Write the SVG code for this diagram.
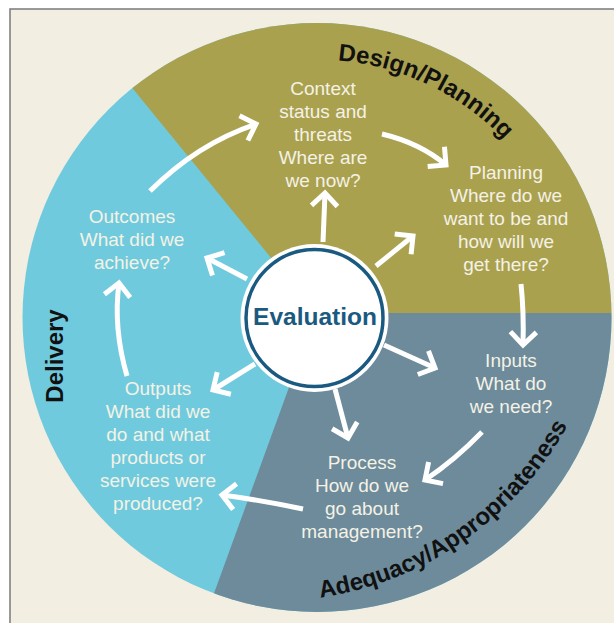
<svg xmlns="http://www.w3.org/2000/svg" width="614" height="623" viewBox="0 0 614 623">
  <style>
    .lbl { font-family: "Liberation Sans", Arial, sans-serif; font-size: 19px; fill: #f4f2e6; text-anchor: middle; }
    .cat { font-family: "Liberation Sans", Arial, sans-serif; font-size: 24px; font-weight: bold; fill: #111; }
    .arr { fill: none; stroke: #fff; stroke-width: 5; marker-end: url(#ah); }
  </style>
  <defs>
    <marker id="ah" markerUnits="userSpaceOnUse" markerWidth="40" markerHeight="40" viewBox="-20 -20 40 40" refX="0" refY="0" orient="auto" overflow="visible">
      <path d="M-13,-13 L0,0 L-13,13" fill="none" stroke="#fff" stroke-width="5" stroke-linejoin="miter"/>
    </marker>
    <clipPath id="disc"><circle cx="317" cy="317.5" r="294.5"/></clipPath>
    <path id="arcTop" d="M272.2,63.4 A258,258 0 0 1 571.1,272.7"/>
    <path id="arcBot" d="M299.4,600.2 A340,340 0 0 0 589.3,377.8"/>
  </defs>

  <rect x="0" y="0" width="614" height="623" fill="#ffffff"/>
  <rect x="10" y="9" width="604" height="614" fill="#f2eee1"/>
  <path d="M10,623 L10,9 L614,9" fill="none" stroke="#7a7a7a" stroke-width="1.5"/>

  <g id="wheel">
    <circle cx="317" cy="317.5" r="294.5" fill="#70cadd"/>
    <g clip-path="url(#disc)">
      <polygon points="316,313 40,-25 700,-25 700,313" fill="#aaa14f"/>
      <polygon points="316,313 700,313 700,740 161,739" fill="#6d8b9a"/>
    </g>
  </g>

  <g id="category-labels">
    <text class="cat"><textPath href="#arcTop" startOffset="160" text-anchor="middle">Design/Planning</textPath></text>
    <text class="cat"><textPath href="#arcBot" startOffset="21">Adequacy/Appropriateness</textPath></text>
    <text class="cat" transform="translate(63,356) rotate(-90)" text-anchor="middle">Delivery</text>
  </g>

  <g id="connectors">
    <path class="arr" d="M150,191 Q197,144 256,124"/>
    <path class="arr" d="M382,134 Q420,143 446,165"/>
    <path class="arr" d="M521,284 Q524,312 523,345"/>
    <path class="arr" d="M482,432 Q455,460 425,480"/>
    <path class="arr" d="M303,509 Q260,500 222,495"/>
    <path class="arr" d="M127,376 Q113,328 119,283"/>
    <path class="arr" d="M323,242 L325,193"/>
    <path class="arr" d="M376,266 L413,236"/>
    <path class="arr" d="M384,345 L435,368"/>
    <path class="arr" d="M335,389 L348,438"/>
    <path class="arr" d="M255,364 L213,390"/>
    <path class="arr" d="M247,279 L207,258"/>
  </g>

  <g id="evaluation">
    <circle cx="314.5" cy="318" r="74" fill="#ffffff"/>
    <circle cx="314.5" cy="318" r="68.5" fill="none" stroke="#1b5a80" stroke-width="3.5"/>
    <text x="315" y="325" font-family="Liberation Sans, Arial, sans-serif" font-size="24.5" font-weight="bold" fill="#1b5a80" text-anchor="middle">Evaluation</text>
  </g>

  <g id="context">
    <text class="lbl" x="323" y="95">Context</text>
    <text class="lbl" x="323" y="118">status and</text>
    <text class="lbl" x="323" y="141">threats</text>
    <text class="lbl" x="323" y="164">Where are</text>
    <text class="lbl" x="323" y="187">we now?</text>
  </g>
  <g id="planning">
    <text class="lbl" x="506" y="179">Planning</text>
    <text class="lbl" x="506" y="202">Where do we</text>
    <text class="lbl" x="506" y="225">want to be and</text>
    <text class="lbl" x="506" y="248">how will we</text>
    <text class="lbl" x="506" y="271">get there?</text>
  </g>
  <g id="inputs">
    <text class="lbl" x="511" y="367">Inputs</text>
    <text class="lbl" x="511" y="390">What do</text>
    <text class="lbl" x="511" y="413">we need?</text>
  </g>
  <g id="process">
    <text class="lbl" x="362" y="469">Process</text>
    <text class="lbl" x="362" y="492">How do we</text>
    <text class="lbl" x="362" y="515">go about</text>
    <text class="lbl" x="362" y="538">management?</text>
  </g>
  <g id="outputs">
    <text class="lbl" x="158" y="395">Outputs</text>
    <text class="lbl" x="158" y="418">What did we</text>
    <text class="lbl" x="158" y="441">do and what</text>
    <text class="lbl" x="158" y="464">products or</text>
    <text class="lbl" x="158" y="487">services were</text>
    <text class="lbl" x="158" y="510">produced?</text>
  </g>
  <g id="outcomes">
    <text class="lbl" x="132" y="223">Outcomes</text>
    <text class="lbl" x="132" y="246">What did we</text>
    <text class="lbl" x="132" y="269">achieve?</text>
  </g>
</svg>
